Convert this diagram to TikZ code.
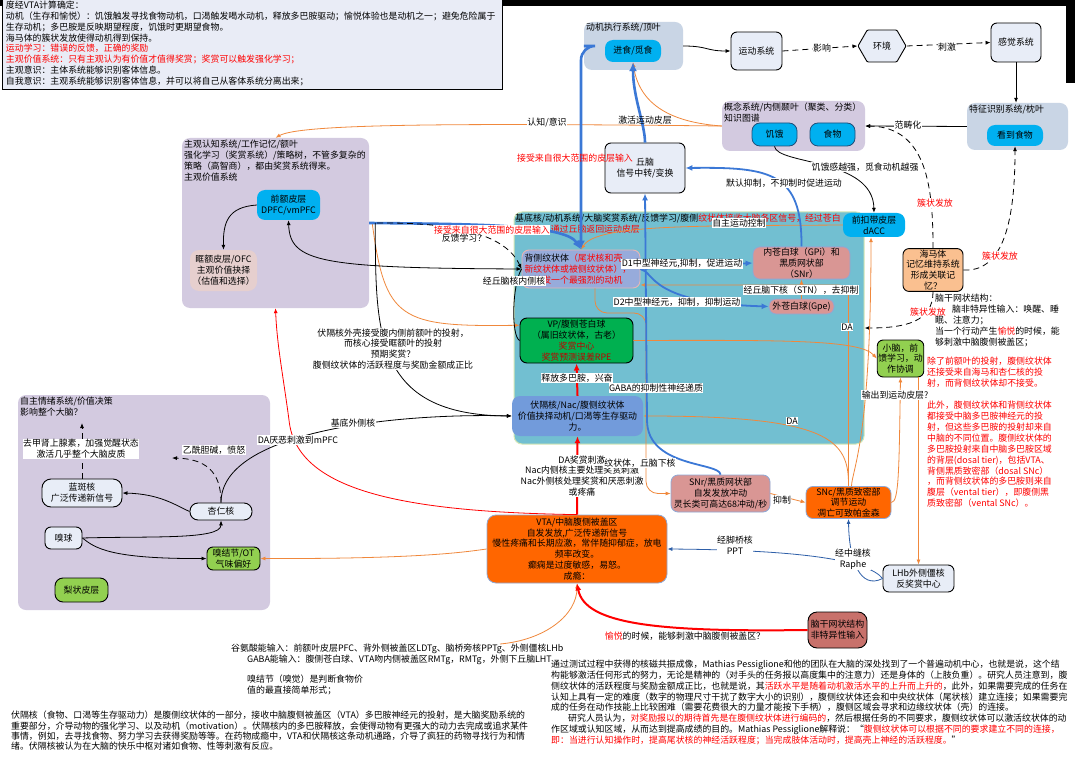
\documentclass[tikz,border=0pt]{standalone}
\usepackage{fontspec}
\setmainfont{Noto Sans CJK SC}
\usetikzlibrary{arrows.meta,shapes.symbols}

\definecolor{pale}{HTML}{E8EDF7}
\definecolor{lav}{HTML}{D3CAE0}
\definecolor{grpb}{HTML}{C9D5E5}
\definecolor{jiditeal}{HTML}{72BFD1}
\definecolor{tealrim}{HTML}{D6E8B5}
\definecolor{cyanc}{HTML}{00B0F0}
\definecolor{nvy}{HTML}{1F4E79}
\definecolor{rose}{HTML}{D99694}
\definecolor{rimb}{HTML}{8EA8D6}
\definecolor{beicef}{HTML}{97ABDB}
\definecolor{beicer}{HTML}{E7B6B5}
\definecolor{vpg}{HTML}{00B050}
\definecolor{lgrn}{HTML}{92D050}
\definecolor{fgh}{HTML}{729BDB}
\definecolor{orgn}{HTML}{FF6600}
\definecolor{peach}{HTML}{FAC090}
\definecolor{brick}{HTML}{C8716B}
\definecolor{kuang}{HTML}{E6CFCE}
\definecolor{introf}{HTML}{E9ECF6}
\definecolor{orl}{HTML}{F0883C}
\definecolor{bth}{HTML}{3B78D6}
\definecolor{dkb}{HTML}{2E5FA8}
\definecolor{dkred}{HTML}{C00000}

\newcommand{\nodefont}{\fontsize{8.9}{10.9}\selectfont}

\begin{document}
\begin{tikzpicture}[x=1pt, y=-1pt,
  every node/.style={font=\nodefont, inner sep=1pt, align=center},
  grp/.style={rounded corners=8pt, inner sep=0pt},
  nbox/.style={draw=black, line width=0.9pt, rounded corners=6pt, fill=pale},
  cyanbox/.style={fill=cyanc, rounded corners=8pt},
  rosebox/.style={draw=rimb, line width=0.8pt, fill=rose, rounded corners=7pt},
  orgbox/.style={draw=rimb, line width=0.8pt, fill=orgn, rounded corners=7pt},
  lbl/.style={fill=white, inner sep=0.5pt},
  ttl/.style={anchor=north west, align=left, inner sep=1pt},
  con/.style={line width=0.8pt, -{Latex[length=5pt,width=4pt]}},
  bline/.style={con, draw=black},
  oline/.style={con, draw=orl},
  rthin/.style={con, draw=red},
  dbline/.style={con, draw=dkb},
  dline/.style={con, draw=black, dash pattern=on 6pt off 4pt},
  bthick/.style={draw=bth, line width=2.6pt, -{Latex[length=9pt,width=8pt]}},
  bmid/.style={draw=bth, line width=1.8pt, -{Latex[length=7pt,width=6pt]}},
  rthick/.style={draw=red, line width=2pt, -{Latex[length=7pt,width=6pt]}}]

\useasboundingbox (0,0) rectangle (1075,759);
\fill[white] (0,0) rectangle (1075,759);
\fill[black] (0,0) rectangle (1075,6.5);
\fill[black] (1066,0) rectangle (1075,83);

% intro notes
\node[draw=black, line width=0.9pt, fill=introf, anchor=south west, text width=493pt, inner sep=3.5pt, align=left] (intro) at (2,90) {度经VTA计算确定：\\%
动机（生存和愉悦）：饥饿触发寻找食物动机，口渴触发喝水动机，释放多巴胺驱动；愉悦体验也是动机之一；避免危险属于\\%
生存动机；多巴胺是反映期望程度，饥饿时更期望食物。\\%
海马体的簇状发放使得动机得到保持。\\%
\textcolor{red}{运动学习：错误的反馈，正确的奖励}\\%
\textcolor{red}{主观价值系统：只有主观认为有价值才值得奖赏；奖赏可以触发强化学习；}\\%
主观意识：主体系统能够识别客体信息。\\%
自我意识：主观系统能够识别客体信息，并可以将自己从客体系统分离出来；};

% groups
\node[grp, fill=grpb, minimum width=99pt, minimum height=48pt] (motexec) at (633.5,46) {};
\node[grp, fill=grpb, minimum width=101pt, minimum height=47pt] (tezheng) at (1017.5,126.5) {};
\node[grp, fill=lav, minimum width=143pt, minimum height=50pt] (gainian) at (793.5,126) {};
\node[grp, fill=lav, minimum width=187pt, minimum height=170pt] (zhuguan) at (275.5,223) {};
\node[grp, fill=jiditeal, draw=tealrim, line width=1pt, minimum width=350pt, minimum height=232pt] (jidi) at (689,328) {};
\node[grp, fill=lav, minimum width=252pt, minimum height=215pt] (qingxu) at (144,502.5) {};

\node[ttl] (motexecT) at (585,22) {动机执行系统/顶叶};
\node[ttl] (tezhengT) at (968,104) {特征识别系统/枕叶};
\node[ttl] (gainianT) at (723,102) {概念系统/内侧颞叶（聚类、分类）\\知识图谱};
\node[ttl] (zhuguanT) at (183,139) {主观认知系统/工作记忆/额叶\\强化学习（奖赏系统）/策略树，不管多复杂的\\策略（高智商），都由奖赏系统得来。\\主观价值系统};
\node[ttl] (jidiT) at (514,213) {基底核/动机系统/大脑奖赏系统/反馈学习/腹侧\textcolor{red}{纹状体接收大脑各区信号，经过苍白}\\\textcolor{red}{球传号，通过丘脑返回运动皮层}};
\node[ttl] (qingxuT) at (19,396) {自主情绪系统/价值决策\\影响整个大脑？};

% nodes
\node[cyanbox, minimum width=56pt, minimum height=22pt] (jinshi) at (633,51) {进食/觅食};
\node[nbox, minimum width=51pt, minimum height=38pt] (yundong) at (756.5,51) {运动系统};
\node[nbox, shape=signal, signal to=west and east, signal pointer angle=120, rounded corners=1pt, minimum width=48pt, minimum height=32pt] (huanjing) at (882,46) {环境};
\node[nbox, minimum width=50pt, minimum height=39pt] (ganjue) at (1016,42.5) {感觉系统};
\node[cyanbox, minimum width=56pt, minimum height=21pt] (kandao) at (1015,135.5) {看到食物};
\node[cyanbox, draw=nvy, line width=0.8pt, minimum width=45pt, minimum height=23pt] (jie) at (774.5,134.5) {饥饿};
\node[cyanbox, draw=nvy, line width=0.8pt, minimum width=45pt, minimum height=23pt] (shiwu) at (832.5,134.5) {食物};
\node[cyanbox, minimum width=63pt, minimum height=30pt] (qiane) at (288.5,205) {前额皮层\\DPFC/vmPFC};
\node[grp, fill=kuang, rounded corners=9pt, minimum width=67pt, minimum height=41pt] (kuange) at (223.5,270.5) {眶额皮层/OFC\\主观价值抉择\\（估值和选择）};
\node[nbox, minimum width=80pt, minimum height=50pt] (qiunao) at (645,168) {丘脑\\信号中转/变换};
\node[draw=beicer, line width=0.9pt, fill=beicef, rounded corners=7pt, minimum width=118pt, minimum height=38pt, text width=113pt, align=left] (beice) at (581,269) {背侧纹状体\textcolor{red}{（尾状核和壳、}\\\textcolor{red}{新纹状体或被侧纹状体），}\\\textcolor{red}{只触发一个最强烈的动机}};
\node[rosebox, minimum width=97pt, minimum height=32pt] (gpi) at (801.5,263) {内苍白球（GPi）和\\黑质网状部\\（SNr）};
\node[rosebox, minimum width=65pt, minimum height=15pt] (gpe) at (801.5,306.5) {外苍白球(Gpe)};
\node[draw=black, line width=0.9pt, fill=vpg, rounded corners=7pt, minimum width=113pt, minimum height=45pt] (vp) at (576.5,340.5) {VP/腹侧苍白球\\（属旧纹状体，古老）\\\textcolor{dkred}{奖赏中心}\\\textcolor{dkred}{奖赏预测误差RPE}};
\node[fill=fgh, rounded corners=8pt, minimum width=131pt, minimum height=40pt] (fugehe) at (577.5,416) {伏隔核/Nac/腹侧纹状体\\价值抉择动机/口渴等生存驱动\\力。};
\node[cyanbox, minimum width=62pt, minimum height=24pt] (dacc) at (874,225) {前扣带皮层\\dACC};
\node[nbox, fill=peach, minimum width=60pt, minimum height=40pt] (haima) at (933,270) {海马体\\记忆维持系统\\形成关联记\\忆？};
\node[nbox, fill=lgrn, minimum width=45pt, minimum height=37pt] (xiaonao) at (900.5,358.5) {小脑，前\\馈学习，动\\作协调};
\node[rosebox, minimum width=99pt, minimum height=37pt] (snr) at (720.5,493.5) {SNr/黑质网状部\\自发发放冲动\\灵长类可高达68冲动/秒};
\node[orgbox, minimum width=85pt, minimum height=31pt] (snc) at (848.5,502.5) {SNc/黑质致密部\\调节运动\\凋亡可致帕金森};
\node[nbox, minimum width=71pt, minimum height=27pt] (lhb) at (918.5,578.5) {LHb外侧僵核\\反奖赏中心};
\node[orgbox, rounded corners=9pt, minimum width=180pt, minimum height=68pt] (vta) at (577,549) {VTA/中脑腹侧被盖区\\自发发放,广泛传递新信号\\慢性疼痛和长期应激，常伴随抑郁症，放电\\频率改变。\\癫痫是过度敏感，易怒。\\成瘾：};
\node[nbox, fill=brick, rounded corners=9pt, minimum width=59pt, minimum height=36pt] (naogan) at (837.5,630) {脑干网状结构\\非特异性输入};
\node[nbox, rounded corners=9pt, minimum width=80pt, minimum height=28pt] (lanban) at (82,493) {蓝斑核\\广泛传递新信号};
\node[nbox, rounded corners=8pt, minimum width=62pt, minimum height=17pt] (xingren) at (221,511.5) {杏仁核};
\node[nbox, minimum width=37pt, minimum height=22pt] (xiuqiu) at (63.5,538) {嗅球};
\node[nbox, fill=lgrn, minimum width=53pt, minimum height=23pt] (xjj) at (233.5,558.5) {嗅结节/OT\\气味偏好};
\node[nbox, fill=lgrn, rounded corners=8pt, minimum width=53pt, minimum height=24pt] (lizhuang) at (81.5,590) {梨状皮层};

\coordinate (snrup) at (647,420);
\coordinate (snrbend) at (646,313);
\coordinate (glutin) at (500,644);
\coordinate (lbtop) at (82,423);
\coordinate (xrleft) at (172,458);

% connectors, top row
\draw[bline] (motexec.east) .. controls +(25,0) and +(-25,0) .. (yundong.west);
\draw[dline] (yundong.east) -- (huanjing.west);
\draw[dline] (huanjing.east) -- (ganjue.west);
\draw[bline] (ganjue.south) -- (ganjue.south |- tezheng.north);
\draw[bline] (tezheng.west) -- (gainian.east);
\draw[oline] (gainian.west) .. controls (450,123) and (300,124) .. (zhuguan.north);
\draw[oline] (gainian.west) .. controls (680,123) and (640,110) .. (jinshi.south);
\draw[dline] (haima.north) .. controls (933,190) and (928,127) .. (gainian.east);
\draw[dline] (haima.east) .. controls (1000,272) and (1015,230) .. (kandao.south);
\draw[dline] (haima.south) .. controls (933,322) and (905,328) .. (jidi.east);
\draw[bline] (jie.south) .. controls (777,165) and (873,158) .. (dacc.north);

% orange pathways
\draw[oline] (gpe.north) -- (gpi.south);
\draw[oline, rounded corners=10pt] (snc.north) |- (beice.-15);
\draw[oline] (snc.north) .. controls (849,440) and (830,416) .. (fugehe.east);
\draw[oline] ([xshift=3pt]snc.north) .. controls (852,470) and (871,440) .. ([xshift=-3pt]dacc.south);
\draw[oline] (vp.east) .. controls (790,340) and (860,340) .. (xiaonao.west);
\draw[oline] (snc.east) .. controls (899,502) and (899,470) .. (xiaonao.south);
\draw[oline] ([xshift=18pt]xiaonao.south) -- (lhb.north);
\draw[oline, rounded corners=12pt] ([xshift=14pt]beice.south) |- (snrbend) |- (snr.west);
\draw[oline] (dacc.west) .. controls (700,226) and (597,224) .. (beice.north);
\draw[oline] (snr.east) -- (snc.west);
\draw[oline] ([xshift=3pt]zhuguan.east) .. controls (385,320) and (400,327) .. (vp.165);
\draw[oline] (glutin) .. controls (545,640) and (577,615) .. (vta.south);
\draw[oline] (vta.west) .. controls (465,552) and (420,559) .. (xjj.east);

% blue pathways
\draw[bthick] (qiunao.north) .. controls +(0,-18) and +(0,35) .. (jinshi.south);
\draw[bthick, rounded corners=14pt] (motexec.west) -| (beice.north);
\draw[bthick] (zhuguan.east) .. controls (470,224) and (565,224) .. (beice.north);
\draw[bmid] (gpi.north) .. controls (802,172) and (770,167) .. (qiunao.east);
\draw[bmid] (snr.north) .. controls (720,462) and (647,468) .. (snrup) -- (qiunao.south);
\draw[bmid] (beice.east) -- (gpi.west);
\draw[bmid] (beice.east) .. controls (655,272) and (648,303) .. (gpe.west);
\draw[dbline] (lhb.west) .. controls (868,560) and (800,550) .. (vta.east);
\draw[dbline] (lhb.west) .. controls (860,590) and (849,560) .. (snc.south);

% red pathways
\draw[rthick] (fugehe.north) -- (vp.south);
\draw[rthick] (vta.north) -- (fugehe.south);
\draw[rthin] (vta.north) .. controls (400,512) and (296,490) .. (289,420) .. controls (283,375) and (277,345) .. (zhuguan.south);
\draw[rthick] (naogan.west) .. controls (660,632) and (585,625) .. (vta.south);

% black pathways
\draw[bline] (qiane.west) .. controls (228,207) and (223,222) .. (kuange.north);
\draw[bline, {Latex[length=5pt,width=4pt]}-{Latex[length=5pt,width=4pt]}] (qiane.south) .. controls (290,262) and (320,268) .. (beice.west);
\draw[bline, -] (beice.west) .. controls (512,285) and (511,336) .. (vp.west);
\draw[bline] ([xshift=6pt]zhuguan.east) .. controls (376,330) and (372,415) .. (fugehe.west);
\draw[dline] ([xshift=8pt]zhuguan.east) .. controls (470,222) and (508,240) .. (beice.west);
\draw[dline] (lanban.north) -- (lbtop);
\draw[dline] (xingren.north) .. controls (221,478) and (212,459) .. (xrleft);
\draw[bline] (xingren.west) .. controls (175,505) and (160,494) .. (lanban.east);
\draw[bline] (xiuqiu.east) .. controls (150,536) and (221,540) .. (xingren.south);
\draw[bline] (xiuqiu.east) .. controls (95,548) and (110,559) .. (xjj.west);
\draw[bline] (xingren.north) .. controls (221,430) and (400,413) .. (fugehe.west);

% labels
\node[lbl] (lyx) at (822,48) {影响};
\node[lbl] (lcj) at (947,47) {刺激};
\node[lbl] (lfch) at (908,125) {范畴化};
\node[lbl] (lrz) at (547,123) {认知/意识};
\node (ljh) at (645,120) {激活运动皮层};
\node[lbl] (ljg) at (865,167) {饥饿感越强，觅食动机越强};
\node[text=red] (lpx1) at (575,158) {接受来自很大范围的皮层输入};
\node[lbl, text=red] (lpx2) at (492,230) {接受来自很大范围的皮层输入};
\node (lfk) at (464,238) {反馈学习？};
\node[lbl] (ljq) at (514,281) {经丘脑核内侧核};
\node[lbl] (lzz) at (739,223) {自主运动控制};
\node[lbl] (ld1) at (682,264) {D1中型神经元,抑制，促进运动};
\node[lbl] (ld2) at (677,302) {D2中型神经元，抑制，抑制运动};
\node[lbl] (lmr) at (784,183) {默认抑制，不抑制时促进运动};
\node[lbl] (lstn) at (801,290) {经丘脑下核（STN），去抑制};
\node[lbl] (lda1) at (847,327) {DA};
\node[lbl] (lda2) at (792,421) {DA};
\node[lbl] (lsf) at (577,378) {释放多巴胺，兴奋};
\node[lbl] (lgaba) at (656,388) {GABA的抑制性神经递质};
\node[lbl] (lda3) at (582,476) {DA奖赏刺激\\Nac内侧核主要处理奖赏刺激\\Nac外侧核处理奖赏和厌恶刺激\\或疼痛};
\node[lbl] (lwzt) at (640,463) {纹状体，丘脑下核};
\node[lbl] (lyz) at (782,500) {抑制};
\node[lbl] (lppt) at (735,545) {经脚桥核\\PPT};
\node[lbl] (lrap) at (853,559) {经中缝核\\Raphe};
\node[lbl] (lsc) at (895,395) {输出到运动皮层?};
\node[lbl, text=red] (lcz1) at (935,203) {簇状发放};
\node[lbl, text=red] (lcz2) at (1000,256) {簇状发放};
\node[lbl, text=red] (lcz3) at (928,312) {簇状发放};
\node[lbl] (ldy) at (298,440) {DA厌恶刺激到mPFC};
\node[lbl] (ljd) at (353,423) {基底外侧核};
\node[lbl] (lqj) at (81,449) {去甲肾上腺素，加强觉醒状态\\激活几乎整个大脑皮质};
\node[lbl] (lyx2) at (214,450) {乙酰胆碱，愤怒};
\node[lbl] (lfgk) at (393,349) {伏隔核外壳接受腹内侧前额叶的投射，\\而核心接受眶额叶的投射\\预期奖赏？\\腹侧纹状体的活跃程度与奖励金额成正比};
\node (lyy) at (685,636) {\textcolor{red}{愉悦}的时候，能够刺激中脑腹侧被盖区？};

% text blocks
\node[ttl, inner sep=0pt] (ngtxt) at (935,294) {脑干网状结构：\\\hspace*{17pt}脑非特异性输入：唤醒、睡\\眠、注意力；\\当一个行动产生\textcolor{red}{愉悦}的时候，能\\够刺激中脑腹侧被盖区；};
\node[ttl, inner sep=0pt, text=red] (redA) at (927,357) {除了前额叶的投射，腹侧纹状体\\还接受来自海马和杏仁核的投\\射，而背侧纹状体却不接受。};
\node[ttl, inner sep=0pt, text=red] (redB) at (927,401) {此外，腹侧纹状体和背侧纹状体\\都接受中脑多巴胺神经元的投\\射，但这些多巴胺的投射却来自\\中脑的不同位置。腹侧纹状体的\\多巴胺投射来自中脑多巴胺区域\\的背层(dosal tier)，包括VTA、\\背侧黑质致密部（dosal SNc）\\，而背侧纹状体的多巴胺则来自\\腹层（vental tier），即腹侧黑\\质致密部（vental SNc）。};
\node[ttl, inner sep=0pt] (glut) at (231,644) {谷氨酸能输入：前额叶皮层PFC、背外侧被盖区LDTg、脑桥旁核PPTg、外侧僵核LHb\\\hspace*{16pt}GABA能输入：腹侧苍白球、VTA吻内侧被盖区RMTg，RMTg，外侧下丘脑LHT};
\node[ttl, inner sep=0pt] (xiutxt) at (247,675) {嗅结节（嗅觉）是判断食物价\\值的最直接简单形式；};
\node[ttl, inner sep=0pt, font=\fontsize{8.9}{10.3}\selectfont] (paraL) at (11,711) {伏隔核（食物、口渴等生存驱动力）是腹侧纹状体的一部分，接收中脑腹侧被盖区（VTA）多巴胺神经元的投射，是大脑奖励系统的\\重要部分，介导动物的强化学习、以及动机（motivation）。伏隔核内的多巴胺释放，会使得动物有更强大的动力去完成或追求某件\\事情，例如，去寻找食物、努力学习去获得奖励等等。在药物成瘾中，VTA和伏隔核这条动机通路，介导了疯狂的药物寻找行为和情\\绪。伏隔核被认为在大脑的快乐中枢对诸如食物、性等刺激有反应。};
\node[ttl, inner sep=0pt, font=\fontsize{8.9}{10.8}\selectfont] (paraR) at (551,660) {通过测试过程中获得的核磁共振成像，Mathias Pessiglione和他的团队在大脑的深处找到了一个普遍动机中心，也就是说，这个结\\构能够激活任何形式的努力，无论是精神的（对手头的任务报以高度集中的注意力）还是身体的（上肢负重）。研究人员注意到，腹\\侧纹状体的活跃程度与奖励金额成正比，也就是说，其\textcolor{red}{活跃水平是随着动机激活水平的上升而上升的}，此外，如果需要完成的任务在\\认知上具有一定的难度（数字的物理尺寸干扰了数字大小的识别），腹侧纹状体还会和中央纹状体（尾状核）建立连接；如果需要完\\成的任务在动作技能上比较困难（需要花费很大的力量才能按下手柄），腹侧区域会寻求和边缘纹状体（壳）的连接。\\\hspace*{17pt}研究人员认为，\textcolor{red}{对奖励报以的期待首先是在腹侧纹状体进行编码的}，然后根据任务的不同要求，腹侧纹状体可以激活纹状体的动\\作区域或认知区域，从而达到提高成绩的目的。Mathias Pessiglione解释说：“\textcolor{red}{腹侧纹状体可以根据不同的要求建立不同的连接，}\\\textcolor{red}{即：当进行认知操作时，提高尾状核的神经活跃程度；当完成肢体活动时，提高壳上神经的活跃程度。}”};

\end{tikzpicture}
\end{document}
